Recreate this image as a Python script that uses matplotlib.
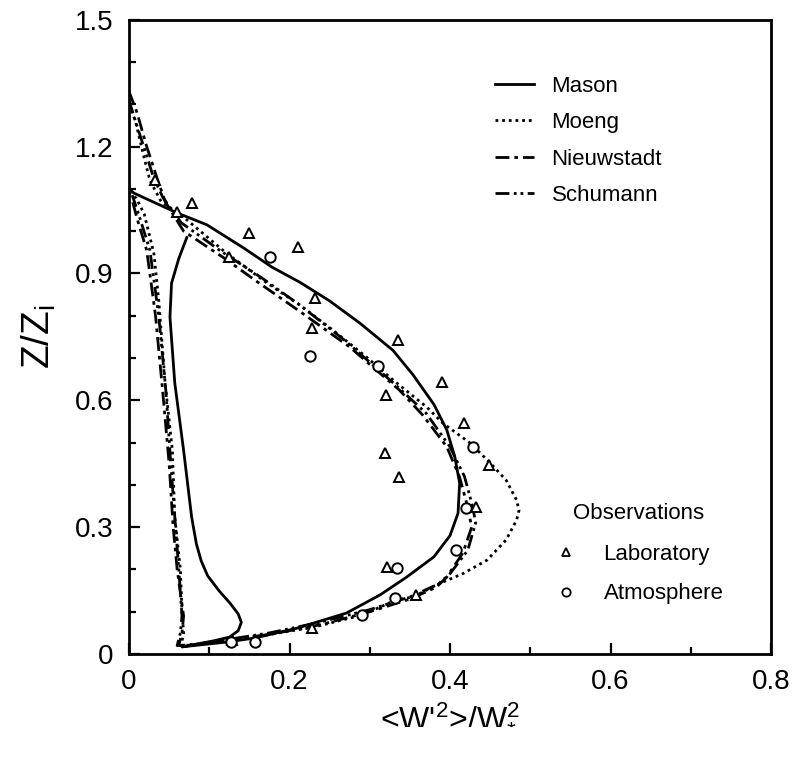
import numpy as np
import matplotlib
matplotlib.use("Agg")
from matplotlib import pyplot as plt
from matplotlib.lines import Line2D

plt.rcParams['font.family'] = ['Liberation Sans', 'DejaVu Sans']
plt.rcParams['mathtext.fontset'] = 'custom'
plt.rcParams['mathtext.rm'] = 'Liberation Sans'
plt.rcParams['mathtext.it'] = 'Liberation Sans'

# model profiles, traced as one loop each: outer branch from the top, then inner branch
mason_x = [0.0, 0.006, 0.06, 0.097, 0.143, 0.178, 0.213, 0.25, 0.288, 0.329, 0.354, 0.38,
           0.396, 0.406, 0.412, 0.41, 0.40, 0.38, 0.346, 0.313, 0.271, 0.209, 0.157, 0.12,
           0.09, 0.066,
           0.105, 0.125, 0.136, 0.14, 0.136, 0.126, 0.112, 0.098, 0.09, 0.084, 0.078, 0.068,
           0.057, 0.051, 0.053, 0.062, 0.072]
mason_z = [1.10, 1.09, 1.043, 1.015, 0.96, 0.915, 0.879, 0.835, 0.782, 0.718, 0.66, 0.59,
           0.53, 0.466, 0.404, 0.333, 0.28, 0.23, 0.182, 0.14, 0.097, 0.061, 0.038, 0.028,
           0.022, 0.017,
           0.031, 0.04, 0.055, 0.075, 0.095, 0.12, 0.15, 0.185, 0.22, 0.26, 0.324, 0.482,
           0.641, 0.797, 0.877, 0.935, 0.985]

moeng_x = [0.0, 0.008, 0.018, 0.026, 0.04, 0.07, 0.12, 0.17, 0.213, 0.254, 0.296, 0.329,
           0.371, 0.391, 0.425, 0.45, 0.47, 0.483, 0.486, 0.483, 0.47, 0.446, 0.416, 0.387,
           0.354, 0.333, 0.29, 0.229, 0.17, 0.12, 0.085, 0.065,
           0.068, 0.066, 0.064, 0.057, 0.054, 0.045, 0.037, 0.031, 0.019, 0.009, 0.0]
moeng_z = [1.30, 1.26, 1.18, 1.12, 1.07, 1.03, 0.95, 0.88, 0.825, 0.766, 0.702, 0.648,
           0.584, 0.546, 0.499, 0.452, 0.411, 0.364, 0.34, 0.317, 0.27, 0.222, 0.19, 0.167,
           0.135, 0.128, 0.092, 0.063, 0.045, 0.032, 0.022, 0.02,
           0.05, 0.1, 0.2, 0.324, 0.482, 0.64, 0.837, 0.947, 1.04, 1.078, 1.09]

nieu_x = [0.0, 0.01, 0.022, 0.035, 0.045, 0.068, 0.118, 0.16, 0.213, 0.275, 0.337, 0.366,
          0.396, 0.412, 0.422, 0.427, 0.416, 0.396, 0.383, 0.35, 0.30, 0.24, 0.18, 0.12,
          0.085, 0.062,
          0.066, 0.068, 0.06, 0.055, 0.05, 0.042, 0.033, 0.022, 0.01, 0.003]
nieu_z = [1.33, 1.28, 1.20, 1.125, 1.07, 1.0, 0.937, 0.88, 0.81, 0.726, 0.624, 0.565,
          0.49, 0.418, 0.348, 0.30, 0.239, 0.182, 0.158, 0.13, 0.10, 0.07, 0.048, 0.032,
          0.022, 0.02,
          0.05, 0.09, 0.2, 0.3, 0.45, 0.62, 0.8, 0.955, 1.03, 1.08]

schu_x = [0.0, 0.008, 0.02, 0.03, 0.042, 0.065, 0.115, 0.165, 0.213, 0.27, 0.33, 0.37,
          0.40, 0.418, 0.428, 0.432, 0.422, 0.40, 0.385, 0.35, 0.30, 0.235, 0.175, 0.118,
          0.083, 0.06,
          0.064, 0.066, 0.062, 0.058, 0.052, 0.046, 0.037, 0.026, 0.012, 0.004]
schu_z = [1.31, 1.26, 1.19, 1.13, 1.08, 1.02, 0.952, 0.89, 0.825, 0.74, 0.64, 0.57,
          0.49, 0.42, 0.35, 0.31, 0.245, 0.19, 0.165, 0.135, 0.105, 0.074, 0.05, 0.033,
          0.023, 0.02,
          0.05, 0.09, 0.2, 0.3, 0.45, 0.62, 0.8, 0.955, 1.04, 1.085]

# observations
lab_x = [0.032, 0.06, 0.078, 0.125, 0.149, 0.21, 0.232, 0.228, 0.335, 0.39, 0.32, 0.418,
         0.319, 0.337, 0.448, 0.433, 0.322, 0.358, 0.228, 0.128]
lab_z = [1.12, 1.045, 1.066, 0.939, 0.995, 0.962, 0.842, 0.771, 0.742, 0.643, 0.612, 0.546,
         0.475, 0.418, 0.447, 0.348, 0.206, 0.14, 0.061, 0.033]
atm_x = [0.176, 0.226, 0.31, 0.429, 0.42, 0.408, 0.334, 0.331, 0.29, 0.157, 0.127]
atm_z = [0.939, 0.705, 0.681, 0.49, 0.345, 0.246, 0.203, 0.133, 0.092, 0.028, 0.028]

fig = plt.figure(figsize=(7.95, 7.57), dpi=100)
ax = fig.add_axes([0.1623, 0.136, 0.8075, 0.838])

lw = 2.0
ax.plot(mason_x, mason_z, color='black', lw=lw, ls='-', label='Mason')
ax.plot(moeng_x, moeng_z, color='black', lw=lw, ls=(0, (1, 1.4)), label='Moeng')
ax.plot(nieu_x, nieu_z, color='black', lw=lw, ls=(0, (5, 1.8, 1.3, 1.8)), label='Nieuwstadt')
ax.plot(schu_x, schu_z, color='black', lw=lw, ls=(0, (5, 1.6, 1, 1.4, 1, 1.6)), label='Schumann')

ax.plot(lab_x, lab_z, ls='none', marker='^', ms=7.5, mfc='white', mec='black', mew=1.4)
ax.plot(atm_x, atm_z, ls='none', marker='o', ms=7.5, mfc='white', mec='black', mew=1.4)

ax.set_xlim(0, 0.8)
ax.set_ylim(0, 1.5)
ax.set_xticks([0, 0.2, 0.4, 0.6, 0.8])
ax.set_xticklabels(['0', '0.2', '0.4', '0.6', '0.8'])
ax.set_yticks([0, 0.3, 0.6, 0.9, 1.2, 1.5])
ax.set_yticklabels(['0', '0.3', '0.6', '0.9', '1.2', '1.5'])
ax.set_xticks(np.arange(0, 0.81, 0.1), minor=True)
ax.set_yticks(np.arange(0, 1.51, 0.1), minor=True)
ax.tick_params(which='both', direction='in', labelsize=20, width=1.6)
ax.tick_params(axis='x', which='both', pad=11)
ax.tick_params(axis='y', which='both', pad=11)
ax.tick_params(which='major', length=8)
ax.tick_params(which='minor', length=5)
for s in ax.spines.values():
    s.set_linewidth(2.0)

ax.set_xlabel(r"<W'$^{2}$>/W$_{*}^{2}$", fontsize=23, va='top')
ax.xaxis.set_label_coords(0.5, -0.072)
ax.set_ylabel(r"Z/Z$_{\mathrm{i}}$", fontsize=28, labelpad=12)

leg1 = ax.legend(loc='upper left', bbox_to_anchor=(0.57, 0.912), frameon=False,
                 fontsize=16, handlelength=1.75, handletextpad=0.8, labelspacing=0.7,
                 borderpad=0, borderaxespad=0)
ax.add_artist(leg1)

obs_handles = [Line2D([], [], ls='none', marker='^', ms=6, mfc='white', mec='black', mew=1.3),
               Line2D([], [], ls='none', marker='o', ms=6, mfc='white', mec='black', mew=1.3)]
leg2 = ax.legend(obs_handles, ['Laboratory', 'Atmosphere'], title='Observations',
                 title_fontsize=16, loc='upper left', bbox_to_anchor=(0.663, 0.238),
                 frameon=False, fontsize=16, handlelength=1.0, handletextpad=1.2,
                 labelspacing=0.85, borderpad=0, borderaxespad=0)
leg2._legend_box.sep = 14

fig.savefig('out.png', dpi=100)
